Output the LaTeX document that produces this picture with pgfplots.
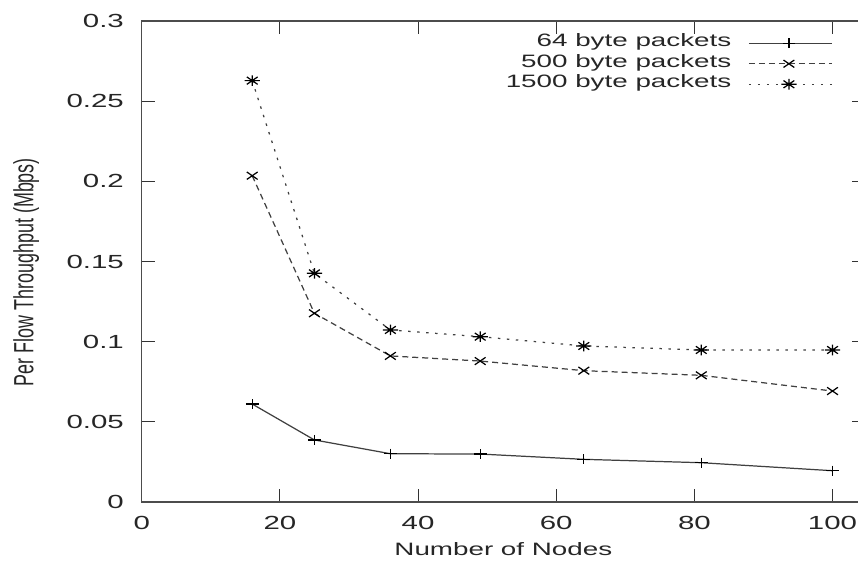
\documentclass[border=0pt]{standalone}
\usepackage{pgfplots}
\pgfplotsset{compat=1.18}
\usepackage{fontspec}
\setmainfont{Liberation Sans}[FakeStretch=1.55]
\newfontfamily\ylabfont{Liberation Sans}[FakeStretch=0.645]
\usetikzlibrary{calc}

% gnuplot style 8-armed star
\pgfdeclareplotmark{gpstar}{%
  \pgfpathmoveto{\pgfqpoint{-\pgfplotmarksize}{0pt}}%
  \pgfpathlineto{\pgfqpoint{\pgfplotmarksize}{0pt}}%
  \pgfpathmoveto{\pgfqpoint{0pt}{-\pgfplotmarksize}}%
  \pgfpathlineto{\pgfqpoint{0pt}{\pgfplotmarksize}}%
  \pgfpathmoveto{\pgfqpoint{-.707\pgfplotmarksize}{-.707\pgfplotmarksize}}%
  \pgfpathlineto{\pgfqpoint{.707\pgfplotmarksize}{.707\pgfplotmarksize}}%
  \pgfpathmoveto{\pgfqpoint{-.707\pgfplotmarksize}{.707\pgfplotmarksize}}%
  \pgfpathlineto{\pgfqpoint{.707\pgfplotmarksize}{-.707\pgfplotmarksize}}%
  \pgfusepathqstroke}

\begin{document}
\begin{tikzpicture}[font=\fontsize{10.2}{12}\selectfont]
\begin{axis}[
    scale only axis,
    width=14.466cm,
    height=9.62cm,
    xmin=0, xmax=104.7,
    ymin=0, ymax=0.3,
    xtick={0,20,40,60,80,100},
    xticklabels={0,20,40,60,80,100},
    ytick={0,0.05,0.1,0.15,0.2,0.25,0.3},
    yticklabels={0,0.05,0.1,0.15,0.2,0.25,0.3},
    /pgf/number format/assume math mode=true,
    tick align=inside,
    major tick length=0.26cm,
    tick style={black!80, line width=0.6pt},
    axis line style={black!70, line width=0.9pt},
    ticklabel style={text=black!85, font=\fontsize{10.8}{12}\selectfont},
    xticklabel style={anchor=north, inner sep=0pt, yshift=-0.27cm},
    yticklabel style={anchor=east, inner sep=0pt, xshift=-0.35cm},
    xlabel={Number of Nodes},
    xlabel style={at={(axis description cs:0.5,0)}, anchor=center, yshift=-0.94cm, text=black!85},
    ylabel={\ylabfont\fontsize{15.8}{18}\selectfont Per Flow Throughput (Mbps)},
    ylabel style={at={(axis description cs:-0.1597,0.478)}, anchor=center, text=black!85},
    legend style={draw=none, fill=none, at={(axis cs:100,0.2925)}, anchor=north east,
        inner sep=0pt, outer sep=0pt, column sep=0.34cm,
        nodes={inner sep=0pt, text height=0.27cm, text depth=0.14cm, text=black!85}},
    legend cell align=right,
    legend plot pos=right,
    legend image code/.code={
        \draw[mark repeat=2,mark phase=2,#1] plot coordinates {(0cm,0cm) (0.8cm,0cm) (1.66cm,0cm)};},
    ]
\coordinate (SW) at (rel axis cs:0,0);
\addplot[black!75, line width=0.7pt, mark=+, mark size=2.85pt, mark options={solid, xscale=1.27, black}]
  coordinates {(16,0.0611) (25,0.0387) (36,0.0301) (49,0.0299) (64,0.0266) (81,0.0245) (100,0.0195)};
\addlegendentry{64 byte packets}
\addplot[black!75, line width=0.7pt, dash pattern=on 0.12cm off 0.08cm, mark=x, mark size=3pt, mark options={solid, xscale=1.45, black}]
  coordinates {(16,0.2035) (25,0.1177) (36,0.0911) (49,0.0879) (64,0.0819) (81,0.0790) (100,0.0692)};
\addlegendentry{500 byte packets}
\addplot[black!75, line width=0.7pt, dash pattern=on 0.05cm off 0.13cm, mark=gpstar, mark size=3pt, mark options={solid, xscale=1.45, black}]
  coordinates {(16,0.2628) (25,0.1426) (36,0.1073) (49,0.1031) (64,0.0973) (81,0.0948) (100,0.0948)};
\addlegendentry{1500 byte packets}
\end{axis}
\pgfresetboundingbox
\useasboundingbox ($(SW)+(-2.834cm,-1.2cm)$) rectangle ($(SW)+(14.326cm,10.04cm)$);
\end{tikzpicture}
\end{document}
